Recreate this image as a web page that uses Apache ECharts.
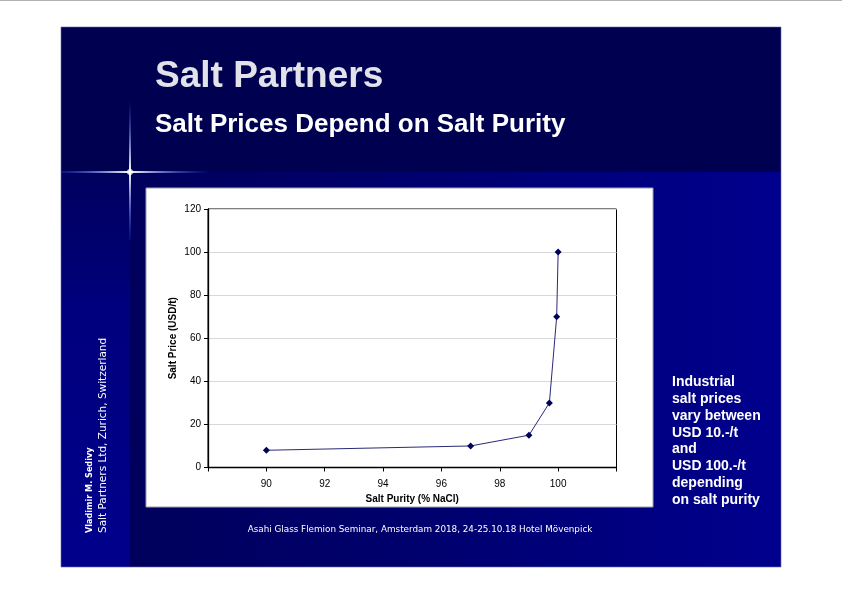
<!DOCTYPE html>
<html>
<head>
<meta charset="utf-8">
<script src="https://cdn.jsdelivr.net/npm/echarts@6/dist/echarts.min.js"></script>
<style>
html,body{margin:0;padding:0;background:#fff;}
#c{width:842px;height:595px;}
</style>
</head>
<body>
<div id="c"></div>
<script>
// Data
var purity = [90, 97, 99, 99.7, 99.95, 100];
var price = [8, 10, 15, 30, 70, 100];
var xTicks = [90, 92, 94, 96, 98, 100];
var yTicks = [0, 20, 40, 60, 80, 100, 120];
var sideLines = ['Industrial', 'salt prices', 'vary between', 'USD 10.-/t', 'and', 'USD 100.-/t', 'depending', 'on salt purity'];

var points = purity.map(function (p, i) { return [p, price[i]]; });

var chart = echarts.init(document.getElementById('c'), null, {renderer: 'canvas'});

var graphics = [
  {type: 'rect', shape: {x: 0, y: 0, width: 842, height: 1}, style: {fill: '#b0b0b0'}, z: -10},
  {type: 'rect', shape: {x: 61, y: 172, width: 720, height: 395}, z: -10,
    style: {fill: new echarts.graphic.LinearGradient(0, 0, 1, 0, [
      {offset: 0, color: '#000058'}, {offset: 0.5, color: '#00006e'}, {offset: 1, color: '#00008e'}])}},
  {type: 'rect', shape: {x: 61, y: 172, width: 69, height: 395}, z: -9,
    style: {fill: new echarts.graphic.LinearGradient(0, 0, 0, 1, [
      {offset: 0, color: '#00005e'}, {offset: 0.35, color: '#00007e'}, {offset: 1, color: '#00008c'}])}},
  {type: 'rect', shape: {x: 61, y: 27, width: 720, height: 145}, style: {fill: '#000050'}, z: -8},
  {type: 'rect', shape: {x: 61, y: 27, width: 720, height: 540}, style: {fill: 'none', stroke: '#6a6ab0', lineWidth: 0.6}, z: -7},
  {type: 'rect', shape: {x: 61, y: 171, width: 150, height: 2}, z: -6,
    style: {fill: new echarts.graphic.LinearGradient(0, 0, 1, 0, [
      {offset: 0, color: 'rgba(60,90,255,0.2)'}, {offset: 0.46, color: 'rgba(255,255,255,1)'}, {offset: 1, color: 'rgba(60,90,255,0)'}])}},
  {type: 'rect', shape: {x: 129, y: 100, width: 2, height: 140}, z: -6,
    style: {fill: new echarts.graphic.LinearGradient(0, 0, 0, 1, [
      {offset: 0, color: 'rgba(60,90,255,0)'}, {offset: 0.51, color: 'rgba(255,255,255,1)'}, {offset: 1, color: 'rgba(60,90,255,0.1)'}])}},
  {type: 'circle', shape: {cx: 130, cy: 172, r: 3}, style: {fill: 'rgba(255,255,255,0.8)'}, z: -5},
  {type: 'rect', shape: {x: 146, y: 188, width: 507, height: 319}, style: {fill: '#ffffff', stroke: '#a0a0b0', lineWidth: 1}, z: -4},
  {type: 'text', x: 155, y: 77, z: 5, style: {text: 'Salt Partners', fill: '#e2e2ea', font: 'bold 37px "Liberation Sans", Arial, sans-serif', verticalAlign: 'middle', align: 'left'}},
  {type: 'text', x: 155, y: 125, z: 5, style: {text: 'Salt Prices Depend on Salt Purity', fill: '#ffffff', font: 'bold 26px "Liberation Sans", Arial, sans-serif', verticalAlign: 'middle', align: 'left'}},
  {type: 'text', x: 420, y: 530, z: 5, style: {text: 'Asahi Glass Flemion Seminar, Amsterdam 2018, 24-25.10.18 Hotel Mövenpick', fill: '#ffffff', font: '8.8px "DejaVu Sans", Tahoma, sans-serif', align: 'center', verticalAlign: 'middle'}},
  {type: 'text', x: 90, y: 533, rotation: Math.PI / 2, z: 5, style: {text: 'Vladimir M. Sedivy', fill: '#ffffff', font: 'bold 9px "DejaVu Sans Condensed", "DejaVu Sans", Tahoma, sans-serif', align: 'left', verticalAlign: 'middle'}},
  {type: 'text', x: 103, y: 533, rotation: Math.PI / 2, z: 5, style: {text: 'Salt Partners Ltd, Zurich, Switzerland', fill: '#ffffff', font: '10.5px "DejaVu Sans", Tahoma, sans-serif', align: 'left', verticalAlign: 'middle'}}
];

sideLines.forEach(function (s, i) {
  graphics.push({type: 'text', x: 672, y: 382 + i * 16.9, z: 5,
    style: {text: s, fill: '#ffffff', font: 'bold 14px "Liberation Sans", Arial, sans-serif', verticalAlign: 'middle', align: 'left'}});
});

chart.setOption({
  animation: false,
  graphic: graphics,
  grid: {left: 208, top: 209, width: 408.5, height: 258.5, show: true, backgroundColor: '#ffffff', borderColor: '#000000', borderWidth: 1},
  xAxis: {
    type: 'value', min: 88, max: 102, interval: 2,
    name: 'Salt Purity (% NaCl)', nameLocation: 'middle', nameGap: 27,
    nameTextStyle: {fontFamily: '"Liberation Sans", Arial', fontWeight: 'bold', fontSize: 10, color: '#000'},
    axisLine: {lineStyle: {color: '#000', width: 1.3}},
    axisTick: {show: true, length: 4, lineStyle: {color: '#000'}},
    axisLabel: {fontFamily: '"Liberation Sans", Arial', fontSize: 10, color: '#000', margin: 12,
      formatter: function (v) { return xTicks.indexOf(v) >= 0 ? String(v) : ''; }},
    splitLine: {show: false}
  },
  yAxis: {
    type: 'value', min: 0, max: 120, interval: 20,
    name: 'Salt Price (USD/t)', nameLocation: 'middle', nameGap: 30, nameRotate: 90,
    nameTextStyle: {fontFamily: '"Liberation Sans", Arial', fontWeight: 'bold', fontSize: 10, color: '#000'},
    axisLine: {show: true, lineStyle: {color: '#000', width: 1.3}},
    axisTick: {show: true, length: 4, lineStyle: {color: '#000'}},
    axisLabel: {fontFamily: '"Liberation Sans", Arial', fontSize: 10, color: '#000', margin: 7,
      formatter: function (v) { return yTicks.indexOf(v) >= 0 ? String(v) : ''; }},
    splitLine: {show: true, lineStyle: {color: '#d8d8d8', width: 1}}
  },
  series: [{
    type: 'line',
    data: points,
    symbol: 'diamond', symbolSize: 7,
    itemStyle: {color: '#00005a'},
    lineStyle: {color: '#2a2a78', width: 1}
  }]
});
</script>
</body>
</html>
